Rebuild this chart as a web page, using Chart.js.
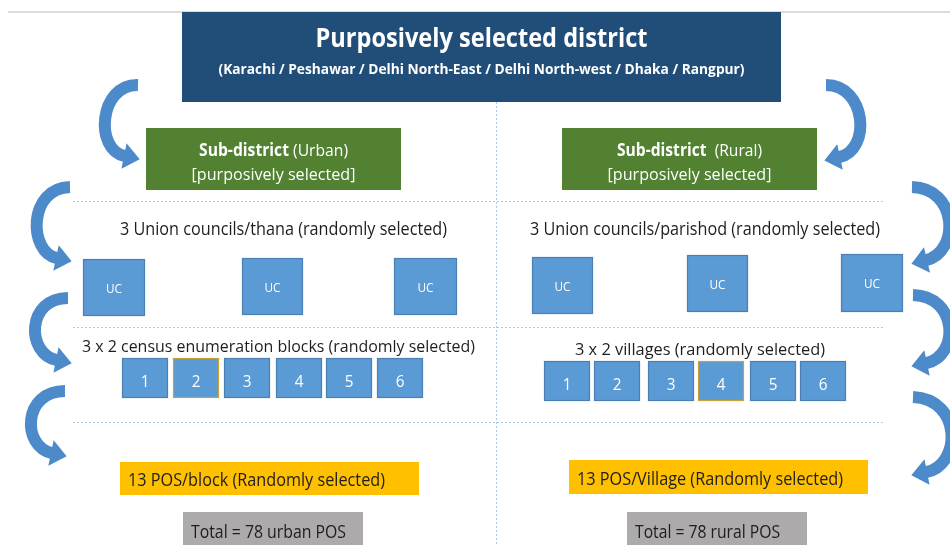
<!DOCTYPE html>
<html>
<head>
<meta charset="utf-8">
<script src="https://cdn.jsdelivr.net/npm/chart.js@4.4.0/dist/chart.umd.min.js"></script>
<style>
  html, body { margin: 0; padding: 0; background: #fff; }
  #wrap { width: 950px; height: 545px; }
</style>
</head>
<body>
<div id="wrap"><canvas id="diagram" width="950" height="545"></canvas></div>
<script>
// contenu du schéma
const districts = ['Karachi', 'Peshawar', 'Delhi North-East', 'Delhi North-west', 'Dhaka', 'Rangpur'];
const titleText = 'Purposively selected district';
const strata = ['Urban', 'Rural'];
const subDistrictNote = '[purposively selected]';
const unionLabels = ['3 Union councils/thana (randomly selected)', '3 Union councils/parishod (randomly selected)'];
const ucNames = ['UC', 'UC', 'UC'];
const unitLabels = ['3 x 2 census enumeration blocks (randomly selected)', '3 x 2 villages (randomly selected)'];
const unitNumbers = [1, 2, 3, 4, 5, 6];
const highlightedUnit = [2, 4];
const posLabels = ['13 POS/block (Randomly selected)', '13 POS/Village (Randomly selected)'];
const totalLabels = ['Total = 78 urban POS', 'Total = 78 rural POS'];

// mise en page (unités des axes = pixels du modèle)
const layout = {
    top: [182, 12, 781, 102],
    sub: [[146, 128, 401, 190], [562, 128, 817, 190]],
    uc: [
        [[83, 259, 145, 316], [242, 258, 303, 315], [394, 258, 457, 315]],
        [[532, 257, 593, 314], [687, 255, 748, 312], [841, 254, 903, 312]]
    ],
    unitX: [[122, 173, 224, 276, 326, 377], [544, 594, 648, 698, 750, 800]],
    unitY: [[358, 398], [361, 401]],
    unitW: 46,
    pos: [[120, 462, 419, 495], [569, 460, 868, 494]],
    total: [[183, 512, 363, 548], [627, 512, 807, 548]],
    dotsY: [201, 327, 422],
    arrows: [
        [[138, 85], [99, 84], [94, 150], [124, 156]],
        [[70, 187], [28, 188], [28, 252], [56, 258]],
        [[68, 298], [26, 298], [26, 354], [56, 360]],
        [[65, 391], [22, 391], [22, 447], [51, 453]],
        [[826, 85], [866, 85], [872, 150], [840, 157]],
        [[912, 187], [958, 188], [960, 252], [927, 260]],
        [[913, 295], [958, 296], [960, 356], [927, 363]],
        [[913, 397], [962, 399], [962, 465], [927, 472]]
    ]
};

const FONT = '"Open Sans", Lato, sans-serif';

function drawText(ctx, segs, x, y, size, targetW, align, color) {
    ctx.save();
    ctx.fillStyle = color;
    ctx.textBaseline = 'alphabetic';
    ctx.textAlign = 'left';
    let natural = 0;
    segs.forEach(s => {
        ctx.font = (s[1] ? 'bold ' : '') + size + 'px ' + FONT;
        natural += ctx.measureText(s[0]).width;
    });
    const k = targetW / natural;
    const startX = align === 'center' ? x - targetW / 2 : x;
    ctx.translate(startX, y);
    ctx.scale(k, 1);
    let cx = 0;
    segs.forEach(s => {
        ctx.font = (s[1] ? 'bold ' : '') + size + 'px ' + FONT;
        ctx.fillText(s[0], cx, 0);
        cx += ctx.measureText(s[0]).width;
    });
    ctx.restore();
}

const diagramPlugin = {
    id: 'diagram',
    afterDraw(chart) {
        const ctx = chart.ctx;
        const sx = chart.scales.x, sy = chart.scales.y;
        const P = (x, y) => [sx.getPixelForValue(x), sy.getPixelForValue(y)];
        const box = (r, fill, stroke) => {
            const a = P(r[0], r[1]), b = P(r[2], r[3]);
            ctx.fillStyle = fill;
            ctx.fillRect(a[0], a[1], b[0] - a[0], b[1] - a[1]);
            if (stroke) {
                ctx.strokeStyle = stroke;
                ctx.lineWidth = 1.2;
                ctx.strokeRect(a[0] + 0.5, a[1] + 0.5, b[0] - a[0] - 1, b[1] - a[1] - 1);
            }
            return [a, b];
        };
        ctx.save();

        // ligne grise en haut
        ctx.strokeStyle = '#dcdcdc';
        ctx.lineWidth = 2;
        ctx.beginPath();
        ctx.moveTo(...P(8, 12)); ctx.lineTo(...P(950, 12));
        ctx.stroke();

        // pointillés
        ctx.strokeStyle = '#a9c9e8';
        ctx.lineWidth = 1;
        ctx.setLineDash([2, 2]);
        layout.dotsY.forEach(y => {
            ctx.beginPath();
            ctx.moveTo(...P(73, y + 0.5)); ctx.lineTo(...P(885, y + 0.5));
            ctx.stroke();
        });
        ctx.beginPath();
        ctx.moveTo(...P(496.5, 102)); ctx.lineTo(...P(496.5, 545));
        ctx.stroke();
        ctx.setLineDash([]);

        // district
        const t = box(layout.top, '#214e79');
        const tc = (t[0][0] + t[1][0]) / 2;
        drawText(ctx, [[titleText, true]], tc, sy.getPixelForValue(47), 27, 332, 'center', '#ffffff');
        drawText(ctx, [['(' + districts.join(' / ') + ')', true]], tc, sy.getPixelForValue(74), 15, 526, 'center', '#ffffff');

        const subW = [[149, 164], [145, 164]];
        const unionW = [327, 350];
        const unionY = [235, 235];
        const unitW = [393, 250];
        const unitTY = [352, 355];
        const posW = [257, 266];
        const totalW = [155, 145];
        const dark = '#1e1e1e';

        strata.forEach((s, i) => {
            // sous-district
            const g = box(layout.sub[i], '#518131');
            const gc = (g[0][0] + g[1][0]) / 2;
            drawText(ctx, [['Sub-district', true], [(i ? '  (' : ' (') + s + ')', false]], gc, sy.getPixelForValue(156), 17, subW[i][0], 'center', '#ffffff');
            drawText(ctx, [[subDistrictNote, false]], gc, sy.getPixelForValue(180), 17, subW[i][1], 'center', '#ffffff');

            // union councils
            const ucs = layout.uc[i];
            const unionCx = i === 0 ? 283.5 : 705;
            drawText(ctx, [[unionLabels[i], false]], sx.getPixelForValue(unionCx), sy.getPixelForValue(unionY[i]), 18, unionW[i], 'center', dark);
            ucNames.forEach((name, j) => {
                const r = box(ucs[j], '#5b9bd5', '#4a7fb3');
                drawText(ctx, [[name, false]], (r[0][0] + r[1][0]) / 2, (r[0][1] + r[1][1]) / 2 + 5, 13, 16, 'center', '#ffffff');
            });

            // blocs / villages
            const unitCx = i === 0 ? 278.5 : 700;
            drawText(ctx, [[unitLabels[i], false]], sx.getPixelForValue(unitCx), sy.getPixelForValue(unitTY[i]), 17, unitW[i], 'center', dark);
            unitNumbers.forEach((n, j) => {
                const x0 = layout.unitX[i][j];
                const hl = n === highlightedUnit[i];
                const r = box([x0, layout.unitY[i][0], x0 + layout.unitW, layout.unitY[i][1]], '#5b9bd5', hl ? '#c9a23a' : '#4a7fb3');
                ctx.font = '17px ' + FONT;
                const w = ctx.measureText(String(n)).width * 0.9;
                drawText(ctx, [[String(n), false]], (r[0][0] + r[1][0]) / 2, r[0][1] + 29, 17, w, 'center', '#ffffff');
            });

            // POS
            const p = box(layout.pos[i], '#ffc000');
            drawText(ctx, [[posLabels[i], false]], p[0][0] + 8, p[1][1] - 9, 18, posW[i], 'left', dark);
            const q = box(layout.total[i], '#acaaaa');
            drawText(ctx, [[totalLabels[i], false]], q[0][0] + 8, sy.getPixelForValue(538), 18, totalW[i], 'left', dark);
        });

        // flèches courbes
        layout.arrows.forEach(a => {
            const [p0, c1, c2, p3] = a.map(pt => P(pt[0], pt[1]));
            let dx = p3[0] - c2[0], dy = p3[1] - c2[1];
            const len = Math.hypot(dx, dy);
            dx /= len; dy /= len;
            const nx = -dy, ny = dx;
            ctx.strokeStyle = '#4d8ac9';
            ctx.lineWidth = 12;
            ctx.lineCap = 'butt';
            ctx.beginPath();
            ctx.moveTo(...p0);
            ctx.bezierCurveTo(...c1, ...c2, p3[0] + dx, p3[1] + dy);
            ctx.stroke();
            ctx.fillStyle = '#4d8ac9';
            ctx.beginPath();
            ctx.moveTo(p3[0] + nx * 13, p3[1] + ny * 13);
            ctx.lineTo(p3[0] + dx * 16, p3[1] + dy * 16);
            ctx.lineTo(p3[0] - nx * 13, p3[1] - ny * 13);
            ctx.closePath();
            ctx.fill();
        });

        ctx.restore();
    }
};

new Chart(document.getElementById('diagram').getContext('2d'), {
    type: 'scatter',
    data: { datasets: [{ data: [] }] },
    options: {
        responsive: false,
        animation: false,
        devicePixelRatio: 1,
        layout: { padding: 0 },
        plugins: { legend: { display: false }, tooltip: { enabled: false } },
        scales: {
            x: { type: 'linear', min: 0, max: 950, display: false },
            y: { type: 'linear', min: 0, max: 545, reverse: true, display: false }
        }
    },
    plugins: [diagramPlugin]
});
</script>
</body>
</html>
